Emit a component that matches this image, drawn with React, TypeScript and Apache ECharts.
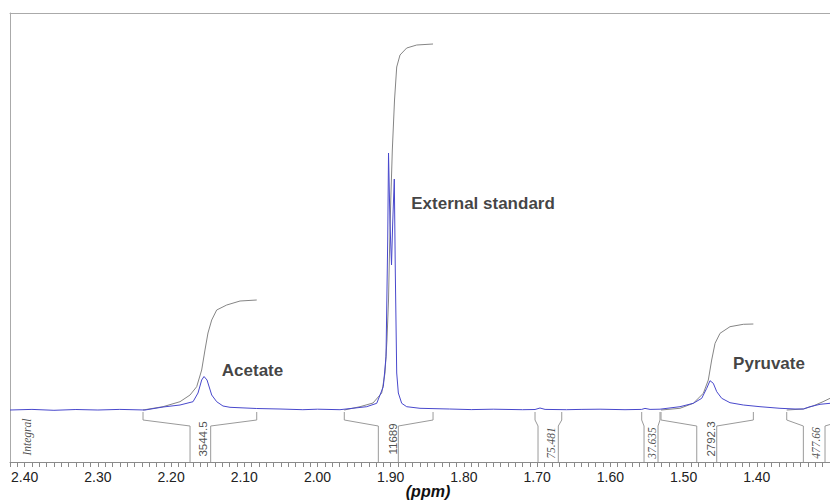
import { useEffect, useRef } from "react";
import * as echarts from "echarts";

// ---- data (ppm, intensity) ----
const spectrum: [number, number][] = [
  [2.42, 0], [2.39, 0.6], [2.36, -0.3], [2.33, 0.5], [2.30, 0], [2.27, 0.6], [2.2356, 0],
  [2.211, 3], [2.1878, 5], [2.17, 8.3], [2.1632, 17], [2.1582, 30], [2.155, 33.5],
  [2.1509, 30], [2.1445, 15], [2.1377, 8.3], [2.1291, 4], [2.1195, 2.7], [2.083, 1.5],
  [2.0512, 1], [2.02, 0.3], [2.0, 0.8], [1.9693, 0.3], [1.9328, 3.3], [1.9191, 6.7],
  [1.9101, 23.3], [1.9064, 53.3], [1.9041, 170], [1.903, 257], [1.901, 187], [1.8989, 145],
  [1.8973, 187], [1.8951, 231], [1.8937, 137], [1.8918, 37], [1.8896, 17], [1.885, 6.7],
  [1.8782, 3.3], [1.86, 1.7], [1.82, 1], [1.79, 0.4], [1.76, 0.8], [1.72, 0.3], [1.7029, 0.5],
  [1.6961, 2], [1.6892, 0.6], [1.66, 0.3], [1.64, 0.6], [1.6141, 0.8], [1.58, 0.3],
  [1.5572, 0.6], [1.5527, 1.6], [1.5458, 0.6], [1.5322, 0.8], [1.5049, 3.3], [1.4867, 6.7],
  [1.4752, 11.7], [1.4684, 21.7], [1.4639, 29.3], [1.4594, 26.7], [1.4547, 18.3],
  [1.4479, 11.7], [1.4366, 7.3], [1.4184, 5], [1.3956, 3.3], [1.3683, 1.7], [1.3478, 1],
  [1.3364, 1], [1.3273, 3.3], [1.3136, 5.7], [1.2999, 6.7],
];

const integralAcetate: [number, number][] = [
  [2.2383, 0], [2.211, 3.3], [2.1878, 8.3], [2.1741, 15], [2.165, 23.3], [2.1582, 40],
  [2.1537, 60], [2.1496, 77], [2.1445, 90], [2.1377, 100], [2.124, 105], [2.1058, 109], [2.083, 110],
];
const integralStandard: [number, number][] = [
  [1.9634, 0], [1.9419, 3.3], [1.9242, 7], [1.9123, 17], [1.9078, 37], [1.9051, 70],
  [1.903, 110], [1.9016, 160], [1.8999, 210], [1.8978, 260], [1.8948, 310], [1.8918, 343],
  [1.8873, 355], [1.8782, 362], [1.8645, 365], [1.8422, 366],
];
const integralPyruvate: [number, number][] = [
  [1.5308, 0], [1.5049, 1.7], [1.4867, 6.7], [1.473, 16.7], [1.4662, 30], [1.4616, 50],
  [1.457, 66.7], [1.4502, 76.7], [1.4366, 83.3], [1.4184, 85.7], [1.4047, 86],
];
const integralRight: [number, number][] = [
  [1.3591, 0], [1.3364, 1], [1.3232, 4], [1.3095, 8.3], [1.2999, 11.7],
];

// integral regions: outer left, inner left, inner right, outer right (ppm)
const regionBounds: [number, number, number, number][] = [
  [2.2383, 2.1741, 2.1459, 2.083],
  [1.9634, 1.9169, 1.8896, 1.8422],
  [1.7029, 1.6988, 1.6711, 1.6664],
  [1.5572, 1.554, 1.5349, 1.5322],
  [1.5308, 1.482, 1.4547, 1.4047],
  [1.3591, 1.3364, 1.3068, 1.2795],
];
const regionValues = ["3544.5", "11689", "75.481", "37.635", "2792.3", "477.66"];
const regionLabelPpm = [2.1564, 1.8975, 1.681, 1.5431, 1.4625, 1.3198];

const compoundNames = ["Acetate", "External standard", "Pyruvate"];
const compoundPpm = [2.0888, 1.7739, 1.3833];
const compoundIntensity = [40, 207, 47];

const X_MIN = 1.3;
const X_MAX = 2.42;

export default function App() {
  const ref = useRef<HTMLDivElement>(null);

  useEffect(() => {
    document.body.style.margin = "0";
    if (!ref.current) return;
    const chart = echarts.init(ref.current, null, { renderer: "svg" });

    const TOP = -2, KNEE1 = -10, KNEE2 = -16, BOTTOM = -52;
    const bracketSeries: any[] = [];
    regionBounds.forEach(([ol, il, ir, or]) => {
      const style = { color: "#9a9a9a", width: 1 };
      bracketSeries.push({
        type: "line", symbol: "none", silent: true, lineStyle: style,
        data: [[ol, TOP], [ol, KNEE1], [il, KNEE2], [il, BOTTOM]],
      });
      bracketSeries.push({
        type: "line", symbol: "none", silent: true, lineStyle: style,
        data: [[ir, BOTTOM], [ir, KNEE2], [or, KNEE1], [or, TOP]],
      });
    });

    const integralLine = (d: [number, number][]) => ({
      type: "line", symbol: "none", silent: true, data: d,
      lineStyle: { color: "#858585", width: 1 },
    });

    const sansLabels = regionValues
      .map((v, i) => ({ v, i }))
      .filter(({ v }) => parseFloat(v) >= 1000)
      .map(({ v, i }) => ({ name: v, value: [regionLabelPpm[i], -29] }));
    const serifLabels = regionValues
      .map((v, i) => ({ v, i }))
      .filter(({ v }) => parseFloat(v) < 1000)
      .map(({ v, i }) => ({ name: v, value: [regionLabelPpm[i], -33] }));
    serifLabels.push({ name: "Integral", value: [2.3968, -27] });

    chart.setOption({
      animation: false,
      backgroundColor: "#ffffff",
      grid: { left: 10, right: 0, top: 13, bottom: 38, containLabel: false, outerBoundsMode: "none" },
      xAxis: [
        {
          type: "value", min: X_MIN, max: X_MAX, inverse: true, interval: 0.01,
          axisLine: { onZero: false, lineStyle: { color: "#8a8a8a", width: 1 } },
          axisTick: { length: 5, lineStyle: { color: "#8a8a8a" } },
          splitLine: { show: false },
          axisLabel: {
            margin: 8, fontSize: 14, color: "#222",
            fontFamily: "Liberation Sans, Arial, sans-serif",
            formatter: (v: number) =>
              Math.abs(Math.round(v * 10) - v * 10) < 1e-6 && v > 1.35 ? v.toFixed(2) : "",
          },
          name: "(ppm)", nameLocation: "middle", nameGap: 21, nameMoveOverlap: false,
          nameTextStyle: {
            fontWeight: "bold", fontStyle: "italic", fontSize: 16, color: "#111",
            fontFamily: "Liberation Sans, Arial, sans-serif", padding: [0, 0, 0, 16],
          },
        },
        {
          type: "value", min: X_MIN, max: X_MAX, inverse: true, position: "top",
          axisLine: { show: true, onZero: false, lineStyle: { color: "#aaaaaa" } },
          axisTick: { show: false }, axisLabel: { show: false }, splitLine: { show: false },
        },
      ],
      yAxis: {
        type: "value", min: -52, max: 397,
        axisLine: { show: true, onZero: false, lineStyle: { color: "#aaaaaa" } },
        axisTick: { show: false }, axisLabel: { show: false }, splitLine: { show: false },
      },
      series: [
        ...bracketSeries,
        integralLine(integralAcetate),
        integralLine(integralStandard),
        integralLine(integralPyruvate),
        integralLine(integralRight),
        {
          type: "line", symbol: "none", silent: true, data: spectrum,
          lineStyle: { color: "#4848cc", width: 1 },
        },
        {
          type: "scatter", symbolSize: 0, silent: true, data: sansLabels,
          label: {
            show: true, position: "inside", rotate: 90, formatter: "{b}",
            fontSize: 11.5, color: "#222", fontFamily: "Liberation Sans, Arial, sans-serif",
          },
        },
        {
          type: "scatter", symbolSize: 0, silent: true, data: serifLabels,
          label: {
            show: true, position: "inside", rotate: 90, formatter: "{b}",
            fontSize: 11.5, fontStyle: "italic", color: "#222",
            fontFamily: "Liberation Serif, Times New Roman, serif",
          },
        },
        {
          type: "scatter", symbolSize: 0, silent: true,
          data: compoundNames.map((n, i) => ({ name: n, value: [compoundPpm[i], compoundIntensity[i]] })),
          label: {
            show: true, position: "inside", formatter: "{b}",
            fontSize: 17, fontWeight: "bold", color: "#111",
            fontFamily: "Liberation Sans, Arial, sans-serif",
          },
        },
      ],
    });

    return () => chart.dispose();
  }, []);

  return <div ref={ref} style={{ width: 830, height: 500 }} />;
}
